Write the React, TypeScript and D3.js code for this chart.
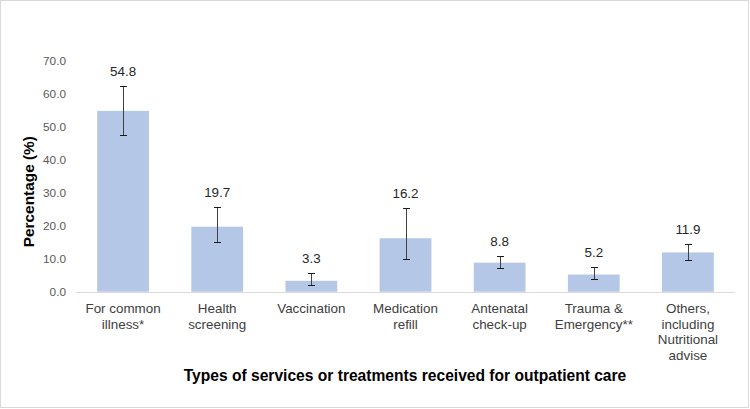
import React, { useRef, useEffect } from 'react';
import { select, scaleBand, scaleLinear, range } from 'd3';

// chart data
const categories = [
  ['For common', 'illness*'],
  ['Health', 'screening'],
  ['Vaccination'],
  ['Medication', 'refill'],
  ['Antenatal', 'check-up'],
  ['Trauma &', 'Emergency**'],
  ['Others,', 'including', 'Nutritional', 'advise'],
];
const values = [54.8, 19.7, 3.3, 16.2, 8.8, 5.2, 11.9];
const errLow = [47.4, 15.0, 2.0, 9.9, 7.2, 3.8, 9.7];
const errHigh = [62.2, 25.6, 5.6, 25.5, 10.9, 7.4, 14.5];
const yTicks = [0, 10, 20, 30, 40, 50, 60, 70];

const W = 750;
const H = 409;
const FONT = 'Arial, "Liberation Sans", sans-serif';

export default function App() {
  const svgRef = useRef(null);

  useEffect(() => {
    const svg = select(svgRef.current);
    svg.selectAll('*').remove();

    const idx = range(values.length);
    const x = scaleBand().domain(idx).range([76, 735]).paddingInner(0.45).paddingOuter(0.225);
    const y = scaleLinear().domain([0, 70]).range([291.7, 60.7]);

    // outer border
    svg.append('rect')
      .attr('x', 0.5).attr('y', 0.5)
      .attr('width', W - 2).attr('height', H - 2)
      .attr('fill', '#fff').attr('stroke', '#d9d9d9');

    // y tick labels (no gridlines)
    svg.append('g').selectAll('text')
      .data(yTicks)
      .join('text')
      .attr('x', 66)
      .attr('y', d => y(d))
      .attr('dy', '0.35em')
      .attr('text-anchor', 'end')
      .attr('font-size', 11.8)
      .attr('fill', '#595959')
      .text(d => d.toFixed(1));

    // bars
    svg.append('g').selectAll('rect')
      .data(idx)
      .join('rect')
      .attr('x', i => x(i))
      .attr('y', i => y(values[i]))
      .attr('width', x.bandwidth())
      .attr('height', i => y(0) - y(values[i]))
      .attr('fill', '#b4c7e7');

    // baseline
    svg.append('line')
      .attr('x1', 76).attr('x2', 735)
      .attr('y1', Math.round(y(0)) + 0.5).attr('y2', Math.round(y(0)) + 0.5)
      .attr('stroke', '#d9d9d9');

    // error bars
    const eb = svg.append('g').attr('stroke', '#1a1a1a').attr('stroke-width', 1);
    idx.forEach(i => {
      const cx = Math.round(x(i) + x.bandwidth() / 2) + 0.5;
      const yt = Math.round(y(errHigh[i])) + 0.5;
      const yb = Math.round(y(errLow[i])) + 0.5;
      eb.append('line').attr('x1', cx).attr('x2', cx).attr('y1', yt).attr('y2', yb).attr('stroke', '#404040');
      eb.append('line').attr('x1', cx - 3.5).attr('x2', cx + 3.5).attr('y1', yt).attr('y2', yt);
      eb.append('line').attr('x1', cx - 3.5).attr('x2', cx + 3.5).attr('y1', yb).attr('y2', yb);
    });

    // value labels
    svg.append('g').selectAll('text')
      .data(idx)
      .join('text')
      .attr('x', i => x(i) + x.bandwidth() / 2)
      .attr('y', i => y(errHigh[i]) - 10)
      .attr('text-anchor', 'middle')
      .attr('font-size', 13.4)
      .attr('fill', '#262626')
      .text(i => values[i].toFixed(1));

    // category labels
    const cat = svg.append('g');
    idx.forEach(i => {
      const t = cat.append('text')
        .attr('x', x(i) + x.bandwidth() / 2)
        .attr('y', 313)
        .attr('text-anchor', 'middle')
        .attr('font-size', 13.4)
        .attr('fill', '#404040');
      categories[i].forEach((line, k) => {
        t.append('tspan')
          .attr('x', x(i) + x.bandwidth() / 2)
          .attr('y', 313 + k * 15.6)
          .text(line);
      });
    });

    // axis titles
    svg.append('text')
      .attr('x', 405).attr('y', 381)
      .attr('text-anchor', 'middle')
      .attr('font-size', 15.6).attr('font-weight', 'bold')
      .attr('fill', '#000')
      .text('Types of services or treatments received for outpatient care');

    svg.append('text')
      .attr('transform', 'translate(34,191.7) rotate(-90)')
      .attr('text-anchor', 'middle')
      .attr('font-size', 15.4).attr('font-weight', 'bold')
      .attr('fill', '#000')
      .text('Percentage (%)');
  }, []);

  return (
    <div style={{ position: 'fixed', left: 0, top: 0 }}>
      <svg ref={svgRef} width={W} height={H} style={{ display: 'block', fontFamily: FONT }} />
    </div>
  );
}
